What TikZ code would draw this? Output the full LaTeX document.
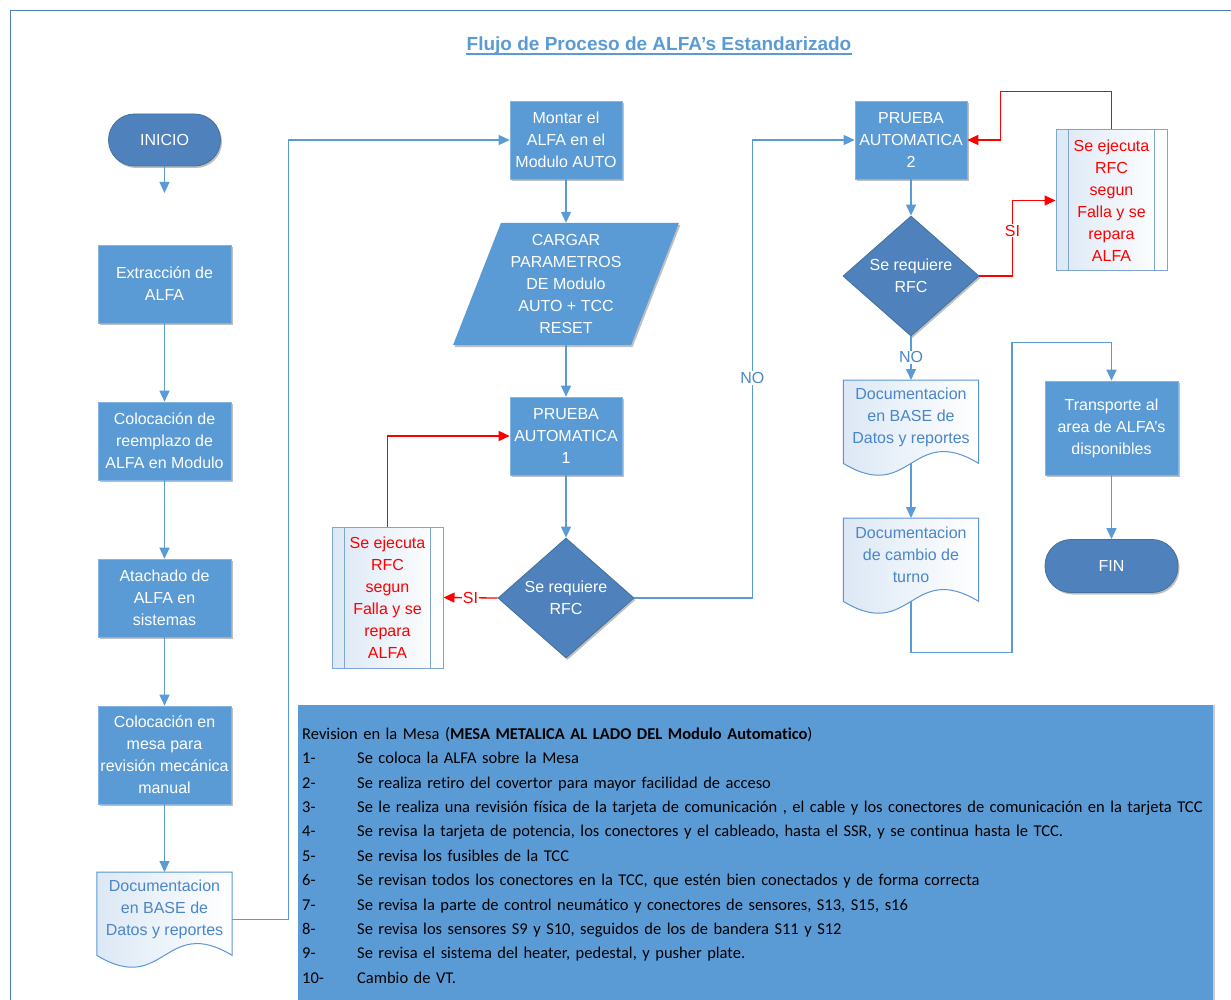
\documentclass[tikz,border=0pt]{standalone}
\usepackage{fontspec}
\setmainfont{Liberation Sans}
\newfontfamily\listfont[Ligatures=NoCommon]{Carlito}
\usetikzlibrary{shapes.geometric,arrows.meta,shadows,backgrounds,calc}

\definecolor{procblue}{RGB}{91,155,213}
\definecolor{darkblue}{RGB}{79,130,189}
\definecolor{darkedge}{RGB}{65,113,156}
\definecolor{lineblue}{RGB}{91,155,213}
\definecolor{frameblue}{RGB}{74,126,187}
\definecolor{titleblue}{RGB}{91,155,213}
\definecolor{docedge}{RGB}{91,150,210}
\definecolor{doctext}{RGB}{74,134,200}
\definecolor{docfill}{RGB}{220,232,245}
\definecolor{rfcedge}{RGB}{126,166,211}
\definecolor{alertred}{RGB}{255,0,0}

% wavy "document" outline behind a text node
\newcommand\docoutline[1]{%
  \begin{scope}[on background layer]
    \draw[docedge, line width=1pt, left color=docfill, right color=white]
      (#1.north west) -- (#1.north east) -- ([yshift=-9pt]#1.south east)
      .. controls ([yshift=32pt]#1.south) and ([yshift=-50pt]#1.south) ..
      ([yshift=-9pt]#1.south west) -- cycle;
  \end{scope}}

% inner bars of a predefined-process box
\newcommand\innerbars[1]{%
  \draw[rfcedge, line width=1pt] ([xshift=13pt]#1.north west) -- ([xshift=13pt]#1.south west);
  \draw[rfcedge, line width=1pt] ([xshift=-13pt]#1.north east) -- ([xshift=-13pt]#1.south east);}

\tikzset{
  every node/.style={font=\fontsize{16}{22}\selectfont, align=center},
  softshadow/.style={drop shadow={shadow xshift=1.5pt, shadow yshift=-2pt, opacity=0.25, fill=black}},
  procbox/.style={rectangle, fill=procblue, draw=procblue!75!white, line width=0.6pt,
    text=white, minimum width=133pt, minimum height=78pt, inner sep=2pt, softshadow},
  terminal/.style={rectangle, rounded corners=26pt, fill=darkblue, draw=darkedge, line width=0.8pt,
    text=white, minimum width=112pt, minimum height=52pt, softshadow},
  decision/.style={diamond, aspect=1.13, fill=darkblue, draw=darkedge, line width=0.8pt,
    text=white, minimum width=136pt, minimum height=120pt, inner sep=0pt, softshadow},
  doctextbox/.style={rectangle, text=doctext, minimum width=135pt, minimum height=74pt,
    inner sep=0pt, anchor=north},
  rfcbox/.style={rectangle, draw=rfcedge, line width=1pt, left color=docfill, right color=white,
    text=alertred, minimum width=111pt, minimum height=141pt, inner sep=0pt},
  flow/.style={draw=lineblue, line width=1.3pt, -{Triangle[length=11pt,width=10pt]}},
  redflow/.style={draw=alertred, line width=1.3pt, -{Triangle[length=11pt,width=10pt]}},
  redlabel/.style={fill=white, inner sep=1pt, text=alertred},
  bluelabel/.style={fill=white, inner sep=1pt, text=doctext},
}

\begin{document}
\begin{tikzpicture}[x=1pt, y=-1pt]
\useasboundingbox (0,0) rectangle (1231,1000);

% page frame
\draw[frameblue, line width=1.5pt] (10.5,10.5) rectangle (1250,1020);

% title
\node[font=\bfseries\fontsize{19}{23}\selectfont, text=titleblue, inner sep=0pt]
  (title) at (659,46) {Flujo de Proceso de ALFA’s Estandarizado};
\draw[titleblue, line width=2pt] ([yshift=-3.5pt]title.base west) -- ([yshift=-3.5pt]title.base east);

% left column
\node[terminal] (inicio) at (164.5,140) {INICIO};
\coordinate (inicioend) at (164.5,193);
\node[procbox] (extr) at (164.5,284) {Extracción de\\ALFA};
\node[procbox] (coloc) at (164.5,441) {Colocación de\\reemplazo de\\ALFA en Modulo};
\node[procbox] (atach) at (164.5,598) {Atachado de\\ALFA en\\sistemas};
\node[procbox, minimum height=98pt] (mesa) at (164.5,755) {Colocación en\\mesa para\\revisión mecánica\\manual};
\node[doctextbox] (doc1) at (164.5,872) {Documentacion\\en BASE de\\Datos y reportes};
\docoutline{doc1}

% middle column
\node[procbox, minimum width=112pt] (montar) at (566,140) {Montar el\\ALFA en el\\Modulo AUTO};
\node[rectangle, text=white, minimum width=130pt, minimum height=122pt, inner sep=0pt]
  (cargar) at (566,284) {CARGAR\\PARAMETROS\\DE Modulo\\AUTO + TCC\\RESET};
\begin{scope}[on background layer]
  \fill[procblue, softshadow]
    ([xshift=-65pt]cargar.north) -- ([xshift=113pt]cargar.north) --
    ([xshift=65pt]cargar.south) -- ([xshift=-113pt]cargar.south) -- cycle;
\end{scope}
\node[procbox, minimum width=112pt] (prueba1) at (566,436) {PRUEBA\\AUTOMATICA\\1};
\node[decision] (dia1) at (566,598) {Se requiere\\RFC};
\node[rfcbox] (rfc1) at (387.5,597.5) {Se ejecuta\\RFC\\segun\\Falla y se\\repara\\ALFA};
\innerbars{rfc1}

% right column
\node[procbox, minimum width=112pt] (prueba2) at (911,140) {PRUEBA\\AUTOMATICA\\2};
\node[decision] (dia2) at (911,276) {Se requiere\\RFC};
\node[rfcbox] (rfc2) at (1111.5,200.5) {Se ejecuta\\RFC\\segun\\Falla y se\\repara\\ALFA};
\innerbars{rfc2}
\node[doctextbox] (doc2) at (911,380) {Documentacion\\en BASE de\\Datos y reportes};
\docoutline{doc2}
\node[doctextbox] (doc3) at (911,518) {Documentacion\\de cambio de\\turno};
\docoutline{doc3}
\node[procbox, minimum height=94pt] (transp) at (1111.5,428) {Transporte al\\area de ALFA’s\\disponibles};
\node[terminal, minimum width=133pt, minimum height=53pt] (fin) at (1111.5,566) {FIN};

% connectors
\draw[flow] (inicio.south) -- (inicioend);
\draw[flow] (extr.south) -- (coloc.north);
\draw[flow] (coloc.south) -- (atach.north);
\draw[flow] (atach.south) -- (mesa.north);
\draw[flow] (mesa.south) -- (doc1.north);
\draw[flow] ([yshift=-10pt]doc1.east) -- ++(56,0) |- (montar.west);
\draw[flow] (montar.south) -- (cargar.north);
\draw[flow] (cargar.south) -- (prueba1.north);
\draw[flow] (prueba1.south) -- (dia1.north);
\draw[redflow] (dia1.west) -- node[redlabel, pos=0.5] {SI} (rfc1.east);
\draw[redflow] (rfc1.north) |- (prueba1.west);
\draw[flow] (dia1.east) -- ++(118,0) |- node[bluelabel, pos=0.24] {NO} (prueba2.west);
\draw[flow] (prueba2.south) -- (dia2.north);
\draw[redflow] (dia2.east) -- ++(33,0) |- node[redlabel, pos=0.3] {SI} (rfc2.west);
\draw[redflow] (rfc2.north) -- ++(0,-38) -| ([xshift=33pt]prueba2.east) -- (prueba2.east);
\draw[flow] (dia2.south) -- node[bluelabel, pos=0.48] {NO} (doc2.north);
\draw[flow] ([yshift=-9pt]doc2.south) -- (doc3.north);
\draw[flow] ([yshift=-9pt]doc3.south) -- ++(0,51) -- ++(101,0) -- ++(0,-310) -| (transp.north);
\draw[flow] (transp.south) -- (fin.north);

% inspection checklist
\node[rectangle, fill=procblue, minimum width=915pt, minimum height=320pt, inner sep=0pt,
  anchor=north west, drop shadow={shadow xshift=2pt, shadow yshift=0pt, opacity=0.2, fill=black}]
  (mesabox) at (298,705) {};
\node[anchor=north west, inner sep=0pt, text width=1000pt, align=left,
  font=\listfont\fontsize{16.5}{24.4}\selectfont] (mesalist) at (302,727) {%
Revision en la Mesa (\textbf{MESA METALICA AL LADO DEL Modulo Automatico})\\
\makebox[55pt][l]{1-}Se coloca la ALFA sobre la Mesa\\
\makebox[55pt][l]{2-}Se realiza retiro del covertor para mayor facilidad de acceso\\
\makebox[55pt][l]{3-}Se le realiza una revisión física de la tarjeta de comunicación , el cable y los conectores de comunicación en la tarjeta TCC\\
\makebox[55pt][l]{4-}Se revisa la tarjeta de potencia, los conectores y el cableado, hasta el SSR, y se continua hasta le TCC.\\
\makebox[55pt][l]{5-}Se revisa los fusibles de la TCC\\
\makebox[55pt][l]{6-}Se revisan todos los conectores en la TCC, que estén bien conectados y de forma correcta\\
\makebox[55pt][l]{7-}Se revisa la parte de control neumático y conectores de sensores, S13, S15, s16\\
\makebox[55pt][l]{8-}Se revisa los sensores S9 y S10, seguidos de los de bandera S11 y S12\\
\makebox[55pt][l]{9-}Se revisa el sistema del heater, pedestal, y pusher plate.\\
\makebox[55pt][l]{10-}Cambio de VT.};
\end{tikzpicture}
\end{document}
